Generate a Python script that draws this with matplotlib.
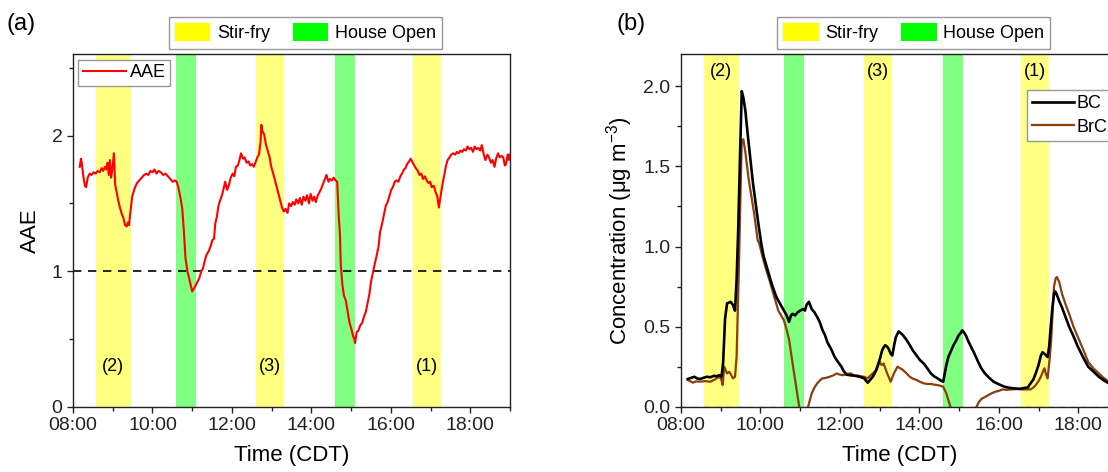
import matplotlib
matplotlib.use("Agg")
import matplotlib.pyplot as plt
from matplotlib.patches import Patch
from matplotlib.ticker import MultipleLocator, FixedLocator

plt.rcParams['font.family'] = ['Liberation Sans', 'DejaVu Sans']
plt.rcParams['mathtext.fontset'] = 'custom'
plt.rcParams['mathtext.rm'] = 'Liberation Sans'
plt.rcParams['mathtext.default'] = 'rm'

# event windows (hours of day, CDT)
stirfry = [(8.57, 9.45), (12.61, 13.30), (16.55, 17.27)]
house_open = [(10.60, 11.10), (14.60, 15.10)]
event_labels = ['(2)', '(3)', '(1)']

# absorption Angstrom exponent
aae_t = [8.17, 8.20, 8.22, 8.26, 8.30, 8.33, 8.37, 8.42, 8.47, 8.52, 8.57, 8.62,
         8.67, 8.72, 8.76, 8.80, 8.84, 8.87, 8.90, 8.93, 8.96, 9.00, 9.03, 9.06,
         9.10, 9.14, 9.18, 9.22, 9.27, 9.31, 9.35, 9.38, 9.41, 9.45, 9.49, 9.55,
         9.61, 9.67, 9.73, 9.79, 9.85, 9.90, 9.95, 10.00, 10.05, 10.10, 10.15, 10.21,
         10.27, 10.33, 10.39, 10.45, 10.51, 10.57, 10.61, 10.65, 10.70, 10.75, 10.79, 10.83,
         10.88, 10.92, 10.96, 11.00, 11.04, 11.08, 11.13, 11.18, 11.23, 11.27, 11.32, 11.36,
         11.42, 11.47, 11.51, 11.55, 11.58, 11.62, 11.66, 11.70, 11.75, 11.80, 11.83, 11.88,
         11.92, 11.97, 12.02, 12.06, 12.10, 12.15, 12.19, 12.23, 12.28, 12.32, 12.37, 12.42,
         12.46, 12.51, 12.55, 12.59, 12.64, 12.68, 12.72, 12.74, 12.77, 12.81, 12.86, 12.90,
         12.95, 12.99, 13.05, 13.12, 13.19, 13.26, 13.31, 13.35, 13.40, 13.44, 13.49, 13.53,
         13.58, 13.62, 13.67, 13.71, 13.76, 13.80, 13.85, 13.89, 13.94, 13.98, 14.03, 14.07,
         14.11, 14.16, 14.20, 14.25, 14.30, 14.34, 14.38, 14.43, 14.47, 14.52, 14.56, 14.61,
         14.65, 14.69, 14.72, 14.74, 14.78, 14.82, 14.87, 14.92, 14.96, 15.01, 15.05, 15.08,
         15.10, 15.14, 15.18, 15.23, 15.28, 15.32, 15.37, 15.42, 15.46, 15.50, 15.55, 15.60,
         15.64, 15.69, 15.73, 15.78, 15.83, 15.87, 15.92, 15.96, 16.01, 16.05, 16.10, 16.14,
         16.19, 16.24, 16.28, 16.33, 16.37, 16.41, 16.46, 16.50, 16.55, 16.59, 16.63, 16.68,
         16.72, 16.77, 16.81, 16.86, 16.90, 16.95, 16.99, 17.03, 17.08, 17.12, 17.17, 17.21,
         17.25, 17.30, 17.35, 17.39, 17.43, 17.48, 17.52, 17.57, 17.62, 17.66, 17.71, 17.75,
         17.80, 17.84, 17.89, 17.93, 17.98, 18.02, 18.07, 18.11, 18.16, 18.20, 18.25, 18.29,
         18.34, 18.38, 18.43, 18.47, 18.52, 18.56, 18.61, 18.65, 18.70, 18.74, 18.79, 18.83,
         18.87, 18.90, 18.94, 18.97, 18.99]
aae = [1.77, 1.83, 1.80, 1.70, 1.63, 1.62, 1.69, 1.72, 1.71, 1.73, 1.72, 1.74,
       1.73, 1.76, 1.74, 1.77, 1.75, 1.80, 1.71, 1.82, 1.69, 1.78, 1.87, 1.64,
       1.58, 1.52, 1.47, 1.43, 1.39, 1.34, 1.33, 1.36, 1.34, 1.45, 1.55, 1.61,
       1.65, 1.67, 1.69, 1.71, 1.72, 1.71, 1.74, 1.73, 1.75, 1.72, 1.74, 1.73,
       1.71, 1.72, 1.70, 1.68, 1.66, 1.67, 1.66, 1.62, 1.55, 1.46, 1.30, 1.10,
       1.00, 0.95, 0.90, 0.85, 0.87, 0.89, 0.92, 0.95, 1.00, 1.02, 1.08, 1.12,
       1.15, 1.19, 1.23, 1.24, 1.35, 1.40, 1.48, 1.52, 1.56, 1.62, 1.66, 1.60,
       1.63, 1.69, 1.72, 1.70, 1.77, 1.78, 1.82, 1.87, 1.83, 1.84, 1.80, 1.81,
       1.78, 1.79, 1.77, 1.80, 1.84, 1.86, 1.95, 2.08, 2.03, 2.01, 1.93, 1.89,
       1.84, 1.77, 1.71, 1.63, 1.55, 1.47, 1.44, 1.46, 1.43, 1.50, 1.48, 1.51,
       1.49, 1.53, 1.50, 1.54, 1.49, 1.55, 1.52, 1.56, 1.50, 1.57, 1.52, 1.55,
       1.51, 1.56, 1.58, 1.61, 1.65, 1.68, 1.71, 1.66, 1.68, 1.67, 1.69, 1.67,
       1.66, 1.40, 1.27, 1.05, 0.90, 0.82, 0.78, 0.69, 0.62, 0.57, 0.52, 0.50,
       0.47, 0.55, 0.56, 0.60, 0.62, 0.66, 0.70, 0.77, 0.83, 0.92, 0.99, 1.06,
       1.11, 1.18, 1.29, 1.35, 1.42, 1.48, 1.51, 1.55, 1.60, 1.62, 1.66, 1.67,
       1.66, 1.70, 1.72, 1.75, 1.76, 1.79, 1.81, 1.83, 1.80, 1.78, 1.76, 1.74,
       1.71, 1.72, 1.68, 1.70, 1.67, 1.65, 1.66, 1.62, 1.63, 1.59, 1.55, 1.47,
       1.55, 1.64, 1.72, 1.78, 1.82, 1.84, 1.86, 1.87, 1.86, 1.88, 1.87, 1.89,
       1.88, 1.90, 1.89, 1.92, 1.90, 1.91, 1.88, 1.92, 1.90, 1.91, 1.89, 1.93,
       1.86, 1.82, 1.86, 1.84, 1.80, 1.82, 1.77, 1.83, 1.87, 1.84, 1.85, 1.84,
       1.78, 1.79, 1.86, 1.82, 1.86]

# black carbon concentration (ug m-3)
bc_t = [8.17, 8.25, 8.34, 8.41, 8.48, 8.56, 8.65, 8.74, 8.83, 8.90, 8.96, 9.02,
        9.06, 9.11, 9.16, 9.25, 9.31, 9.36, 9.40, 9.44, 9.49, 9.53, 9.57, 9.62,
        9.68, 9.75, 9.81, 9.88, 9.95, 10.02, 10.08, 10.15, 10.21, 10.28, 10.35, 10.41,
        10.50, 10.59, 10.66, 10.72, 10.77, 10.81, 10.87, 10.94, 11.00, 11.07, 11.12, 11.16,
        11.22, 11.29, 11.36, 11.43, 11.49, 11.56, 11.62, 11.69, 11.78, 11.87, 11.95, 12.04,
        12.10, 12.17, 12.30, 12.44, 12.53, 12.61, 12.70, 12.77, 12.83, 12.90, 12.97, 13.02,
        13.06, 13.10, 13.14, 13.19, 13.23, 13.28, 13.32, 13.37, 13.41, 13.48, 13.53, 13.59,
        13.67, 13.76, 13.84, 13.93, 14.02, 14.11, 14.20, 14.29, 14.37, 14.46, 14.53, 14.60,
        14.64, 14.68, 14.73, 14.80, 14.86, 14.92, 14.99, 15.04, 15.08, 15.12, 15.17, 15.23,
        15.30, 15.39, 15.48, 15.56, 15.65, 15.76, 15.87, 16.00, 16.14, 16.27, 16.40, 16.53,
        16.66, 16.73, 16.80, 16.87, 16.93, 17.00, 17.06, 17.10, 17.15, 17.19, 17.23, 17.27,
        17.30, 17.35, 17.39, 17.42, 17.46, 17.52, 17.59, 17.68, 17.77, 17.88, 17.99, 18.12,
        18.25, 18.38, 18.52, 18.64, 18.77, 18.88, 19.00]
bc = [0.173, 0.180, 0.187, 0.176, 0.173, 0.180, 0.187, 0.184, 0.193, 0.190, 0.197, 0.187,
      0.27, 0.55, 0.645, 0.655, 0.635, 0.60, 0.79, 1.10, 1.60, 1.97, 1.93, 1.85,
      1.70, 1.54, 1.40, 1.27, 1.14, 1.02, 0.94, 0.88, 0.83, 0.77, 0.72, 0.68,
      0.64, 0.60, 0.57, 0.53, 0.57, 0.58, 0.57, 0.59, 0.60, 0.61, 0.60, 0.635,
      0.655, 0.61, 0.59, 0.56, 0.53, 0.48, 0.45, 0.40, 0.36, 0.31, 0.28, 0.25,
      0.22, 0.20, 0.195, 0.193, 0.185, 0.177, 0.15, 0.17, 0.187, 0.22, 0.27, 0.31,
      0.35, 0.37, 0.384, 0.375, 0.36, 0.33, 0.32, 0.39, 0.435, 0.47, 0.46, 0.446,
      0.42, 0.384, 0.35, 0.32, 0.29, 0.27, 0.24, 0.208, 0.19, 0.177, 0.165, 0.156,
      0.208, 0.26, 0.31, 0.35, 0.384, 0.41, 0.446, 0.46, 0.477, 0.465, 0.446, 0.41,
      0.375, 0.33, 0.28, 0.24, 0.208, 0.18, 0.156, 0.14, 0.125, 0.118, 0.114, 0.112,
      0.118, 0.12, 0.146, 0.17, 0.208, 0.26, 0.32, 0.34, 0.33, 0.32, 0.31, 0.38,
      0.477, 0.62, 0.706, 0.72, 0.70, 0.66, 0.62, 0.56, 0.50, 0.44, 0.375, 0.31,
      0.25, 0.22, 0.187, 0.165, 0.146, 0.13, 0.12]

# brown carbon concentration (ug m-3)
brc_t = [8.17, 8.23, 8.30, 8.38, 8.48, 8.60, 8.74, 8.85, 8.96, 9.01, 9.05, 9.09,
         9.16, 9.22, 9.31, 9.36, 9.40, 9.46, 9.50, 9.53, 9.57, 9.62, 9.71, 9.78,
         9.84, 9.93, 9.97, 10.06, 10.15, 10.24, 10.32, 10.45, 10.59, 10.66, 10.72, 10.81,
         10.90, 10.97, 11.05, 11.15, 11.20, 11.29, 11.36, 11.43, 11.50, 11.56, 11.65, 11.74,
         11.83, 11.92, 12.00, 12.09, 12.18, 12.27, 12.35, 12.44, 12.52, 12.61, 12.70, 12.77,
         12.83, 12.92, 13.00, 13.05, 13.10, 13.19, 13.28, 13.36, 13.45, 13.52, 13.59, 13.67,
         13.76, 13.84, 13.93, 14.02, 14.11, 14.20, 14.29, 14.37, 14.46, 14.54, 14.60, 14.68,
         14.77, 14.90, 15.30, 15.44, 15.50, 15.57, 15.65, 15.74, 15.83, 15.92, 16.01, 16.10,
         16.20, 16.31, 16.45, 16.58, 16.70, 16.80, 16.87, 16.93, 17.00, 17.06, 17.11, 17.15,
         17.19, 17.23, 17.28, 17.32, 17.36, 17.39, 17.43, 17.46, 17.52, 17.59, 17.68, 17.77,
         17.88, 17.99, 18.12, 18.25, 18.38, 18.52, 18.64, 18.77, 18.88, 19.00]
brc = [0.167, 0.160, 0.150, 0.158, 0.156, 0.160, 0.156, 0.170, 0.187, 0.175, 0.135, 0.25,
       0.208, 0.218, 0.177, 0.187, 0.31, 0.89, 1.35, 1.66, 1.67, 1.59, 1.41, 1.30,
       1.21, 1.04, 1.02, 0.93, 0.85, 0.78, 0.71, 0.60, 0.54, 0.48, 0.42, 0.27,
       0.125, 0.01, -0.10, -0.05, 0.0, 0.083, 0.12, 0.146, 0.165, 0.177, 0.18, 0.187,
       0.195, 0.208, 0.200, 0.197, 0.205, 0.208, 0.196, 0.187, 0.190, 0.187, 0.177, 0.195,
       0.208, 0.229, 0.28, 0.26, 0.27, 0.208, 0.156, 0.208, 0.25, 0.24, 0.229, 0.21,
       0.187, 0.175, 0.167, 0.155, 0.146, 0.142, 0.142, 0.138, 0.135, 0.130, 0.125, 0.083,
       0.01, -0.10, -0.10, 0.0, 0.03, 0.05, 0.06, 0.073, 0.085, 0.094, 0.10, 0.108,
       0.105, 0.108, 0.110, 0.108, 0.108, 0.108, 0.120, 0.135, 0.160, 0.187, 0.22, 0.24,
       0.20, 0.177, 0.30, 0.42, 0.62, 0.75, 0.80, 0.81, 0.78, 0.706, 0.64, 0.58,
       0.50, 0.435, 0.36, 0.28, 0.24, 0.208, 0.18, 0.156, 0.14, 0.13]

hour_ticks = [8, 10, 12, 14, 16, 18]
hour_labels = ['08:00', '10:00', '12:00', '14:00', '16:00', '18:00']

YELLOW = '#ffff80'
GREEN = '#80ff80'

fig = plt.figure(figsize=(11.08, 4.72), dpi=100)
ax1 = fig.add_axes([0.0659, 0.1383, 0.3944, 0.7466])
ax2 = fig.add_axes([0.6146, 0.1383, 0.3944, 0.7466])


def shade(ax):
    for a, b in stirfry:
        ax.axvspan(a, b, color=YELLOW, lw=0, zorder=0)
    for a, b in house_open:
        ax.axvspan(a, b, color=GREEN, lw=0, zorder=0)


def style(ax):
    ax.set_xlim(8, 19)
    ax.xaxis.set_major_locator(FixedLocator(hour_ticks))
    ax.set_xticklabels(hour_labels)
    ax.xaxis.set_minor_locator(MultipleLocator(1))
    ax.tick_params(which='both', direction='out', top=False, right=False,
                   labelsize=14, width=1.0, colors='#222222')
    ax.tick_params(which='major', length=4.5, pad=3)
    ax.tick_params(which='minor', length=3)
    for s in ax.spines.values():
        s.set_linewidth(1.0)
        s.set_color('#222222')
    ax.set_xlabel('Time (CDT)', fontsize=16, labelpad=8)


# (a) AAE
shade(ax1)
ax1.plot(aae_t, aae, color='#ff0000', lw=1.5, label='AAE', zorder=3)
ax1.axhline(1, color='black', lw=1.2, ls=(0, (5, 4)), zorder=2)
ax1.set_ylim(0, 2.6)
ax1.yaxis.set_major_locator(MultipleLocator(1))
ax1.yaxis.set_minor_locator(MultipleLocator(0.5))
style(ax1)
ax1.set_ylabel('AAE', fontsize=16, labelpad=8)
for (a, b), lab in zip(stirfry, event_labels):
    ax1.text((a + b) / 2, 0.30, lab, ha='center', va='center', fontsize=13)
ax1.legend(loc='upper left', bbox_to_anchor=(0.012, 0.985), borderaxespad=0,
           fontsize=13, handlelength=2.4, handletextpad=0.2, borderpad=0.25,
           fancybox=False, edgecolor='#999999', framealpha=1)

# (b) BC / BrC
shade(ax2)
ax2.axhline(0, color='#888888', lw=1.0, ls=(0, (4, 4)), zorder=2)
ax2.plot(bc_t, bc, color='black', lw=1.9, label='BC', zorder=4)
ax2.plot(brc_t, brc, color='#8b3e0f', lw=1.6, label='BrC', zorder=3)
ax2.set_ylim(0, 2.2)
ax2.yaxis.set_major_locator(MultipleLocator(0.5))
ax2.yaxis.set_minor_locator(MultipleLocator(0.25))
ax2.yaxis.set_major_formatter(matplotlib.ticker.FormatStrFormatter('%.1f'))
style(ax2)
ax2.set_ylabel('Concentration (μg m$^{-3}$)', fontsize=16, labelpad=6)
for (a, b), lab in zip(stirfry, event_labels):
    ax2.text((a + b) / 2, 2.09, lab, ha='center', va='center', fontsize=13)
ax2.legend(loc='upper left', bbox_to_anchor=(0.792, 0.899), borderaxespad=0,
           fontsize=13, handlelength=2.3, handletextpad=0.15, borderpad=0.3,
           labelspacing=0.35, fancybox=False, edgecolor='#999999', framealpha=1)

# shared event key above each panel
handles = [Patch(facecolor='#ffff00', edgecolor='none', label='Stir-fry'),
           Patch(facecolor='#00ff00', edgecolor='none', label='House Open')]
for cx in (0.2757, 0.8246):
    fig.legend(handles=handles, loc='center', bbox_to_anchor=(cx, 0.9308), ncol=2,
               fontsize=13, handlelength=1.95, handleheight=1.15, handletextpad=0.35,
               columnspacing=1.3, borderpad=0.35, fancybox=False,
               edgecolor='#999999', framealpha=1)

fig.text(0.006, 0.95, '(a)', fontsize=17, va='center', ha='left')
fig.text(0.556, 0.95, '(b)', fontsize=17, va='center', ha='left')

fig.savefig('out.png', dpi=100)
